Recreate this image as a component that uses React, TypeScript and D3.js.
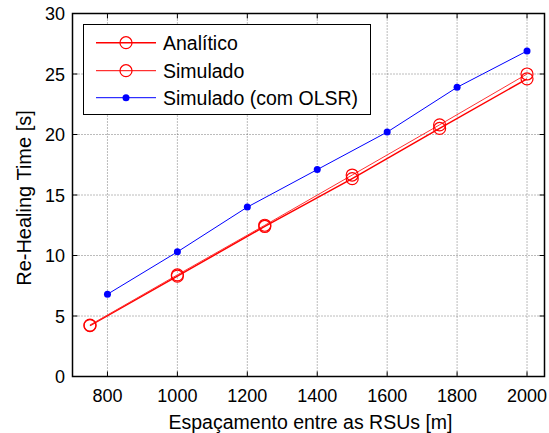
import React from "react";
import * as d3 from "d3";

const analiticoX = [750, 1000, 1250, 1500, 1750, 2000];
const analiticoY = [4.2, 8.3, 12.4, 16.35, 20.5, 24.6];
const simuladoX = [750, 1000, 1250, 1500, 1750, 2000];
const simuladoY = [4.25, 8.4, 12.5, 16.65, 20.8, 25.0];
const olsrX = [800, 1000, 1200, 1400, 1600, 1800, 2000];
const olsrY = [6.8, 10.3, 14.0, 17.1, 20.2, 23.9, 26.9];
const xTicks = [800, 1000, 1200, 1400, 1600, 1800, 2000];
const yTicks = [0, 5, 10, 15, 20, 25, 30];
const seriesNames = ["Analítico", "Simulado", "Simulado (com OLSR)"];

export default function App() {
  const W = 549, H = 433;
  const L = 72.5, R = 544.5, T = 13.5, B = 376.5;
  const x = d3.scaleLinear().domain([700, 2050]).range([L, R]);
  const y = d3.scaleLinear().domain([0, 30]).range([B, T]);
  const line = (xs: number[], ys: number[]) =>
    d3.line<number>().x((_, i) => x(xs[i])).y((d) => y(d))(ys) || "";
  const font = "Arial, 'Liberation Sans', sans-serif";
  const tl = 5;
  const legX = 83.5, legY = 24.5, legW = 287, legH = 90;
  const rowsY = [42.7, 70.7, 97.7];
  return (
    <div style={{ position: "absolute", left: 0, top: 0 }}>
      <svg width={W} height={H} style={{ display: "block", background: "#fff" }} fontFamily={font}>
        <rect x={0} y={0} width={W} height={H} fill="#fff" />
        {/* grid */}
        {xTicks.map((t) => (
          <line key={"gx" + t} x1={x(t)} x2={x(t)} y1={T} y2={B} stroke="#555" strokeWidth={0.8} strokeDasharray="1,2" />
        ))}
        {yTicks.slice(1, -1).map((t) => (
          <line key={"gy" + t} x1={L} x2={R} y1={y(t)} y2={y(t)} stroke="#555" strokeWidth={0.8} strokeDasharray="1,2" />
        ))}
        {/* ticks */}
        {xTicks.map((t) => (
          <g key={"tx" + t}>
            <line x1={x(t)} x2={x(t)} y1={B} y2={B - tl} stroke="#000" />
            <line x1={x(t)} x2={x(t)} y1={T} y2={T + tl} stroke="#000" />
          </g>
        ))}
        {yTicks.map((t) => (
          <g key={"ty" + t}>
            <line x1={L} x2={L + tl} y1={y(t)} y2={y(t)} stroke="#000" />
            <line x1={R} x2={R - tl} y1={y(t)} y2={y(t)} stroke="#000" />
          </g>
        ))}
        {/* series */}
        <path d={line(analiticoX, analiticoY)} fill="none" stroke="#ff0000" strokeWidth={1.5} />
        <path d={line(simuladoX, simuladoY)} fill="none" stroke="#ff3333" strokeWidth={1} />
        <path d={line(olsrX, olsrY)} fill="none" stroke="#0000ff" strokeWidth={1} />
        {analiticoY.map((v, i) => (
          <circle key={"a" + i} cx={x(analiticoX[i])} cy={y(v)} r={6} fill="none" stroke="#ff0000" strokeWidth={1.2} />
        ))}
        {simuladoY.map((v, i) => (
          <circle key={"s" + i} cx={x(simuladoX[i])} cy={y(v)} r={6} fill="none" stroke="#ff0000" strokeWidth={1.2} />
        ))}
        {olsrY.map((v, i) => (
          <circle key={"o" + i} cx={x(olsrX[i])} cy={y(v)} r={3.5} fill="#0000ff" />
        ))}
        {/* axes box */}
        <rect x={L} y={T} width={R - L} height={B - T} fill="none" stroke="#000" strokeWidth={1.5} />
        {/* tick labels */}
        {xTicks.map((t) => (
          <text key={"lx" + t} x={x(t)} y={401.5} textAnchor="middle" fontSize={18} fill="#000">{t}</text>
        ))}
        {yTicks.map((t) => (
          <text key={"ly" + t} x={65} y={y(t) + 6.5} textAnchor="end" fontSize={18} fill="#000">{t}</text>
        ))}
        <text x={(L + R) / 2 + 2} y={429} textAnchor="middle" fontSize={19.5} fill="#000">Espaçamento entre as RSUs [m]</text>
        <text transform={`translate(31,198) rotate(-90)`} textAnchor="middle" fontSize={20} fill="#000">Re-Healing Time [s]</text>
        {/* legend */}
        <rect x={legX} y={legY} width={legW} height={legH} fill="#fff" stroke="#000" strokeWidth={1} />
        {seriesNames.map((n, i) => {
          const cy = rowsY[i];
          const col = i === 2 ? "#0000ff" : "#ff0000";
          return (
            <g key={"lg" + i}>
              <line x1={96} x2={156} y1={cy} y2={cy} stroke={col} strokeWidth={i === 0 ? 1.5 : 1} />
              {i < 2 ? (
                <circle cx={126} cy={cy} r={6} fill="none" stroke="#ff0000" strokeWidth={1.2} />
              ) : (
                <circle cx={126} cy={cy} r={3.5} fill="#0000ff" />
              )}
              <text x={163} y={cy + 7} fontSize={19.5} fill="#000">{n}</text>
            </g>
          );
        })}
      </svg>
    </div>
  );
}
